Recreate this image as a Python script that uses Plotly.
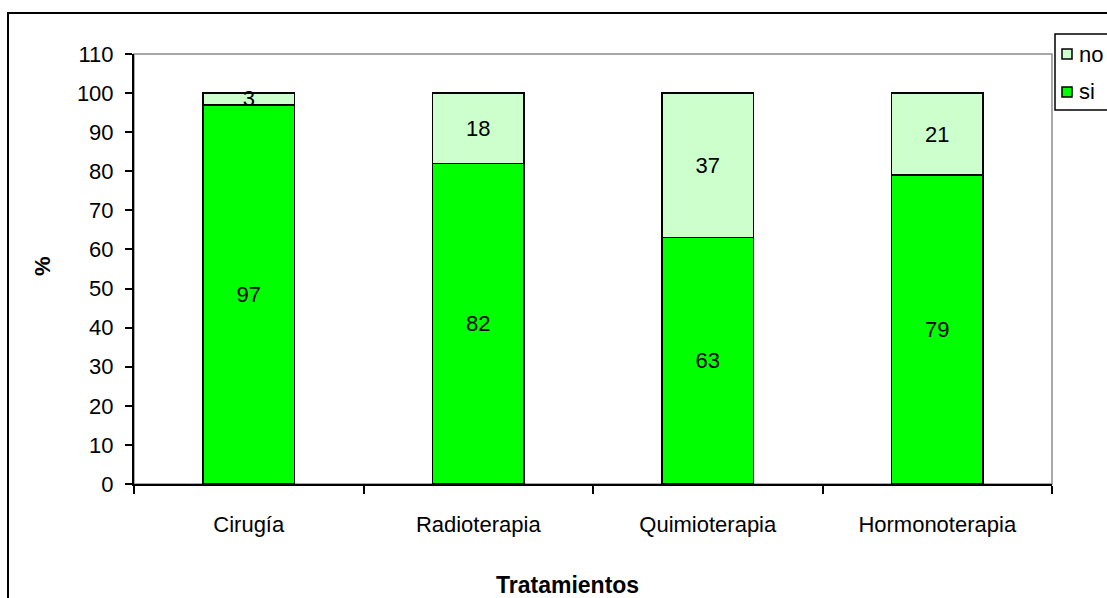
import plotly.graph_objects as go

categories = ["Cirugía", "Radioterapia", "Quimioterapia", "Hormonoterapia"]
si_values = [97, 82, 63, 79]
no_values = [3, 18, 37, 21]
y_ticks = list(range(0, 111, 10))
series_names = ["no", "si"]
series_colors = ["#CCFFCC", "#00FF00"]

W, H = 1107, 598
L, R, T, B = 134, 55, 54, 114
pw, ph = W - L - R, H - T - B


def px_x(x):
    return (x - L) / pw


def px_y(y):
    return (H - B - y) / ph


FONT = "Liberation Sans, Arial, sans-serif"
FS = 22

fig = go.Figure()
for vals, name, color in [(si_values, "si", series_colors[1]), (no_values, "no", series_colors[0])]:
    fig.add_trace(go.Bar(
        x=categories, y=vals, name=name, width=0.4, showlegend=False,
        marker=dict(color=color, line=dict(color="black", width=1.5)),
        text=[str(v) for v in vals], textposition="inside",
        insidetextanchor="middle", textangle=0, constraintext="none",
        textfont=dict(color="black", size=FS, family=FONT),
        hoverinfo="skip",
    ))

# manual legend (box clipped by the right edge, as in the reference)
shapes = [
    dict(type="rect", xref="paper", yref="paper", x0=0, x1=1, y0=0, y1=1,
         line=dict(color="#8c8c8c", width=1.5), layer="below"),
    dict(type="rect", xref="paper", yref="paper",
         x0=px_x(8), x1=px_x(1125), y0=px_y(615), y1=px_y(13),
         line=dict(color="black", width=2), layer="below"),
    dict(type="rect", xref="paper", yref="paper",
         x0=px_x(1055), x1=px_x(1125), y0=px_y(110), y1=px_y(34),
         line=dict(color="black", width=1.5), fillcolor="white", layer="above"),
]
annotations = []
for i, (name, color) in enumerate(zip(series_names, series_colors)):
    cy = 54 + i * 38
    shapes.append(dict(type="rect", xref="paper", yref="paper",
                       x0=px_x(1062), x1=px_x(1072), y0=px_y(cy + 5), y1=px_y(cy - 5),
                       line=dict(color="black", width=1.5), fillcolor=color, layer="above"))
    annotations.append(dict(text=name, xref="paper", yref="paper",
                            x=px_x(1077), y=px_y(cy), xanchor="left", yanchor="middle",
                            showarrow=False, font=dict(size=FS, family=FONT, color="black")))

annotations += [
    dict(text="<b>Tratamientos</b>", xref="paper", yref="paper",
         x=px_x(567), y=px_y(585), xanchor="center", yanchor="middle",
         showarrow=False, font=dict(size=23, family=FONT, color="black")),
    dict(text="<b>%</b>", xref="paper", yref="paper",
         x=px_x(42), y=px_y(266), xanchor="center", yanchor="middle",
         textangle=-90, showarrow=False,
         font=dict(size=FS, family=FONT, color="black")),
]

fig.update_layout(
    width=W, height=H,
    barmode="stack",
    margin=dict(l=L, r=R, t=T, b=B, autoexpand=False),
    paper_bgcolor="white", plot_bgcolor="white",
    font=dict(family=FONT, size=FS, color="black"),
    showlegend=False,
    xaxis=dict(
        showline=True, linecolor="black", linewidth=2,
        ticks="outside", ticklen=8, tickwidth=1.5, tickcolor="black",
        tickson="boundaries", showgrid=False, ticklabelstandoff=20,
        tickfont=dict(size=FS, family=FONT, color="black"),
    ),
    yaxis=dict(
        range=[0, 110], tickvals=y_ticks, ticktext=[str(v) for v in y_ticks],
        showline=True, linecolor="black", linewidth=2,
        ticks="outside", ticklen=7, tickwidth=1.5, tickcolor="black",
        showgrid=False, zeroline=False, ticklabelstandoff=7,
        tickfont=dict(size=FS, family=FONT, color="black"),
    ),
    shapes=shapes,
    annotations=annotations,
)

fig.write_html("out.html", config={"displayModeBar": False},
               post_script="document.body.style.margin='0px';document.body.style.overflow='hidden';")
